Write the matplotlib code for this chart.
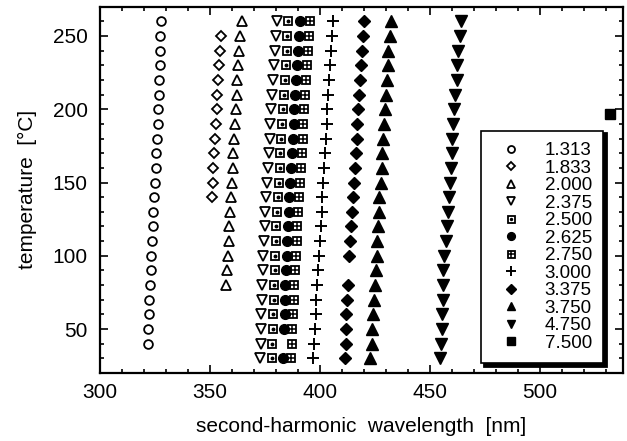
import matplotlib
matplotlib.use("Agg")
import matplotlib.pyplot as plt
from matplotlib.ticker import MultipleLocator

# temperatures [degC] for each row of points
t_all = [260, 250, 240, 230, 220, 210, 200, 190, 180, 170, 160, 150,
         140, 130, 120, 110, 100, 90, 80, 70, 60, 50, 40, 30]
t_1313 = t_all[:-1]
t_1833 = [250, 240, 230, 220, 210, 200, 190, 180, 170, 160, 150, 140]
t_2000 = [260, 250, 240, 230, 220, 210, 200, 190, 180, 170, 160, 150,
          140, 130, 120, 110, 100, 90, 80]
t_2625 = [260, 250, 240, 230, 220, 210, 200, 190, 180, 170, 160, 150,
          140, 130, 120, 110, 100, 90, 80, 70, 60, 50, 30]
t_3375 = [260, 250, 240, 230, 220, 210, 200, 190, 180, 170, 160, 150,
          140, 130, 120, 110, 100, 80, 70, 60, 50, 40, 30]
t_7500 = [197]

# second-harmonic wavelengths [nm]
wl_1313 = [327.5, 327.4, 327.3, 327.2, 327.0, 326.8, 326.5, 326.2, 325.9, 325.6, 325.3, 325.0,
           324.6, 324.3, 324.0, 323.6, 323.3, 323.0, 322.7, 322.4, 322.2, 322.0, 321.8]
wl_1833 = [355.0, 354.6, 354.2, 353.8, 353.4, 353.0, 352.6, 352.3, 351.9, 351.5, 351.2, 350.8]
wl_2000 = [364.4, 363.6, 363.2, 362.9, 362.4, 362.1, 361.8, 361.4, 360.9, 360.6, 360.3, 359.9,
           359.4, 359.1, 358.8, 358.5, 358.2, 357.6, 357.1]
wl_2375 = [380.3, 379.9, 379.5, 379.1, 378.7, 378.3, 377.9, 377.5, 377.1, 376.7, 376.3, 375.9,
           375.5, 375.2, 374.9, 374.6, 374.3, 374.1, 373.8, 373.6, 373.4, 373.2, 373.0, 372.7]
wl_2500 = [385.6, 385.2, 384.8, 384.4, 384.0, 383.6, 383.2, 382.8, 382.4, 382.0, 381.6, 381.2,
           380.8, 380.5, 380.2, 379.9, 379.6, 379.4, 379.1, 378.9, 378.7, 378.5, 378.3, 378.0]
wl_2625 = [390.8, 390.4, 390.0, 389.6, 389.2, 388.8, 388.4, 388.0, 387.6, 387.2, 386.8, 386.4,
           386.0, 385.7, 385.4, 385.1, 384.8, 384.6, 384.3, 384.1, 383.9, 383.7, 383.2]
wl_2750 = [395.3, 394.9, 394.5, 394.1, 393.7, 393.3, 392.9, 392.5, 392.1, 391.7, 391.2, 390.8,
           390.4, 390.0, 389.7, 389.4, 389.0, 388.8, 388.4, 388.1, 387.8, 387.5, 387.2, 386.6]
wl_3000 = [405.7, 405.3, 404.9, 404.5, 404.1, 403.7, 403.4, 403.0, 402.6, 402.2, 401.8, 401.5,
           401.1, 400.7, 400.3, 399.9, 399.5, 399.1, 398.8, 398.4, 398.0, 397.6, 397.3, 397.0]
wl_3375 = [420.0, 419.5, 419.0, 418.6, 418.2, 417.8, 417.4, 417.0, 416.6, 416.2, 415.8, 415.4,
           415.0, 414.6, 414.2, 413.8, 413.4, 412.6, 412.3, 412.0, 411.8, 411.6, 411.4]
wl_3750 = [432.3, 431.8, 431.1, 430.8, 430.3, 430.0, 429.5, 429.2, 428.8, 428.3, 428.0, 427.6,
           427.0, 426.7, 426.2, 426.1, 425.8, 425.5, 425.0, 424.5, 424.2, 423.8, 423.5, 422.7]
wl_4750 = [464.1, 463.6, 462.9, 462.4, 462.1, 461.4, 460.9, 460.6, 460.2, 459.8, 459.4, 459.1,
           458.6, 458.3, 457.6, 457.1, 456.5, 456.1, 455.9, 455.8, 455.5, 455.3, 454.8, 454.5]
wl_7500 = [532.0]

labels = ["1.313", "1.833", "2.000", "2.375", "2.500", "2.625",
          "2.750", "3.000", "3.375", "3.750", "4.750", "7.500"]

plt.rcParams["font.family"] = ["Liberation Sans", "DejaVu Sans"]

fig = plt.figure(figsize=(6.27, 4.41), dpi=100)
ax = fig.add_axes([0.1595, 0.154, 0.834, 0.831])

open_kw = dict(linestyle="none", color="black", markerfacecolor="none", markeredgewidth=1.3)
fill_kw = dict(linestyle="none", color="black")

h1, = ax.plot(wl_1313, t_1313, marker="o", markersize=6.3, **open_kw)
h2, = ax.plot(wl_1833, t_1833, marker="D", markersize=5.2, **open_kw)
h3, = ax.plot(wl_2000, t_2000, marker="^", markersize=7, **open_kw)
h4, = ax.plot(wl_2375, t_all, marker="v", markersize=7, **open_kw)
h5a, = ax.plot(wl_2500, t_all, marker="s", markersize=6.3, **open_kw)
h5b, = ax.plot(wl_2500, t_all, marker="o", markersize=1.8, **fill_kw)
h6, = ax.plot(wl_2625, t_2625, marker="o", markersize=7, **fill_kw)
h7a, = ax.plot(wl_2750, t_all, marker="s", markersize=6.3, **open_kw)
h7b, = ax.plot(wl_2750, t_all, marker="+", markersize=6.3, markeredgewidth=1.1, **fill_kw)
h8, = ax.plot(wl_3000, t_all, marker="+", markersize=8.5, markeredgewidth=1.4, **fill_kw)
h9, = ax.plot(wl_3375, t_3375, marker="D", markersize=6, **fill_kw)
h10, = ax.plot(wl_3750, t_all, marker="^", markersize=8, **fill_kw)
h11, = ax.plot(wl_4750, t_all, marker="v", markersize=8, **fill_kw)
h12, = ax.plot(wl_7500, t_7500, marker="s", markersize=7, **fill_kw)

ax.set_xlim(300, 537.7)
ax.set_ylim(20, 270)
ax.xaxis.set_major_locator(MultipleLocator(50))
ax.xaxis.set_minor_locator(MultipleLocator(10))
ax.yaxis.set_major_locator(MultipleLocator(50))
ax.yaxis.set_minor_locator(MultipleLocator(10))
ax.tick_params(which="both", direction="in", top=True, right=True, width=1.2, labelsize=15)
ax.tick_params(which="major", length=6)
ax.tick_params(which="minor", length=3)
ax.tick_params(axis="x", pad=7)
ax.tick_params(axis="y", pad=9)
for s in ax.spines.values():
    s.set_linewidth(1.6)

ax.set_xlabel("second-harmonic  wavelength  [nm]", fontsize=15, labelpad=11)
ax.set_ylabel("temperature  [°C]", fontsize=15, labelpad=11)

handles = [h1, h2, h3, h4, (h5a, h5b), h6, (h7a, h7b), h8, h9, h10, h11, h12]
leg = ax.legend(handles, labels, loc="lower right", bbox_to_anchor=(0.962, 0.028),
                borderaxespad=0, fontsize=13.5, markerscale=0.8, labelspacing=0.02,
                handlelength=2.0, handletextpad=0.8, borderpad=0.6,
                fancybox=False, edgecolor="black", framealpha=1,
                shadow={"color": "black", "alpha": 1, "linewidth": 2})
leg.get_frame().set_linewidth(1.2)

fig.savefig("out.png", dpi=100)
